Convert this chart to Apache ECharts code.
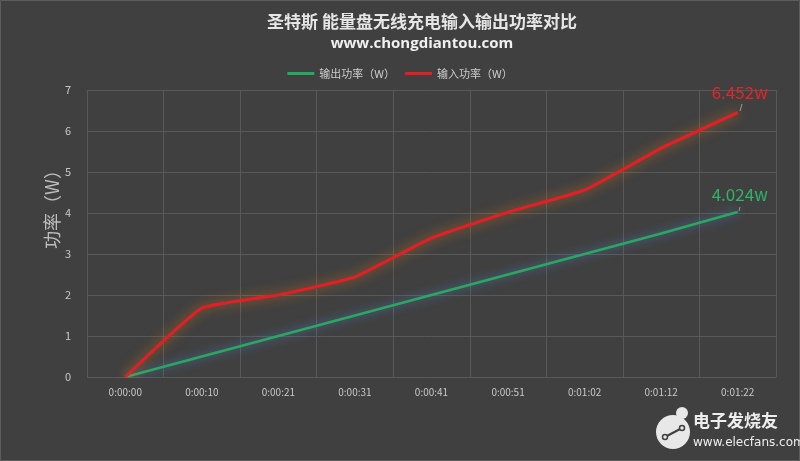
<!DOCTYPE html>
<html>
<head>
<meta charset="utf-8">
<script src="https://cdn.jsdelivr.net/npm/echarts@6/dist/echarts.min.js"></script>
<style>
html,body{margin:0;padding:0;background:#404040;}
#c{width:800px;height:461px;}
</style>
</head>
<body>
<div id="c"></div>
<script>
var categories = ['0:00:00','0:00:10','0:00:21','0:00:31','0:00:41','0:00:51','0:01:02','0:01:12','0:01:22'];
var outputPower = [0, 0.5, 1.0, 1.5, 2.0, 2.5, 3.0, 3.5, 4.024];
var inputPower = [0, 1.68, 2.0, 2.44, 3.39, 4.02, 4.56, 5.58, 6.452];
var yTicks = [0, 1, 2, 3, 4, 5, 6, 7];
var seriesNames = ['输出功率（W）', '输入功率（W）'];

var FONT = '"Noto Sans CJK SC", "Noto Sans", sans-serif';

function endLabel(color, dy) {
  return {
    show: true,
    distance: 0,
    offset: [2, dy],
    align: 'center',
    verticalAlign: 'middle',
    formatter: function (p) { return Number(p.value).toFixed(3) + 'w'; },
    color: color, fontSize: 17, fontFamily: FONT
  };
}

var chart = echarts.init(document.getElementById('c'));
chart.setOption({
  backgroundColor: '#404040',
  animation: false,
  title: {
    text: '圣特斯 能量盘无线充电输入输出功率对比',
    subtext: 'www.chongdiantou.com',
    left: 417, textAlign: 'center', top: 8, itemGap: 6,
    textStyle: { color: '#e6e6e6', fontSize: 17, fontWeight: 'bold', fontFamily: FONT },
    subtextStyle: { color: '#f0f0f0', fontSize: 15, fontWeight: 'bold', fontFamily: '"Open Sans", "Noto Sans", sans-serif' }
  },
  legend: {
    data: seriesNames,
    top: 63, left: 'center',
    itemWidth: 27, itemHeight: 3, itemGap: 10,
    icon: 'rect',
    textStyle: { color: '#cccccc', fontSize: 11, fontFamily: FONT }
  },
  grid: { left: 87, right: 24, top: 90, bottom: 84 },
  xAxis: {
    type: 'category',
    data: categories,
    boundaryGap: true,
    axisLine: { show: false },
    axisTick: { show: false },
    axisLabel: { color: '#c8c8c8', fontSize: 10, margin: 10, fontFamily: FONT },
    splitLine: { show: true, interval: 0, lineStyle: { color: '#595959', width: 1 } }
  },
  yAxis: {
    type: 'value',
    min: yTicks[0], max: yTicks[yTicks.length - 1], interval: 1,
    axisLine: { show: false },
    axisTick: { show: false },
    axisLabel: { color: '#c8c8c8', fontSize: 11, margin: 16, fontFamily: FONT },
    splitLine: { lineStyle: { color: '#595959', width: 1 } }
  },
  series: [
    {
      name: seriesNames[0],
      type: 'line',
      data: outputPower,
      symbol: 'none',
      itemStyle: { color: '#2aa862' },
      lineStyle: { color: '#2aa862', width: 2.5, shadowColor: 'rgba(80,140,220,0.75)', shadowBlur: 10 },
      endLabel: endLabel('#2fb36a', -17),
      z: 3
    },
    {
      name: seriesNames[1],
      type: 'line',
      data: inputPower,
      symbol: 'none',
      smooth: 0.12,
      itemStyle: { color: '#e01f26' },
      lineStyle: { color: '#e01f26', width: 3.2, shadowColor: 'rgba(220,120,20,0.8)', shadowBlur: 12 },
      endLabel: endLabel('#e5242a', -20),
      z: 4
    }
  ],
  graphic: [
    { type: 'rect', shape: { x: 0.5, y: 0.5, width: 799, height: 460 }, style: { fill: 'none', stroke: '#5c5c5c', lineWidth: 1 }, silent: true },
    { type: 'text', x: 52, y: 205, rotation: Math.PI / 2, style: { text: '功率（W）', fill: '#bdbdbd', fontSize: 18, fontFamily: FONT, align: 'center', verticalAlign: 'middle' } },
    { type: 'line', shape: { x1: 740, y1: 111, x2: 742, y2: 104 }, style: { stroke: '#9a9a9a', lineWidth: 1 } },
    { type: 'line', shape: { x1: 739, y1: 211, x2: 740, y2: 207 }, style: { stroke: '#9a9a9a', lineWidth: 1 } },
    { type: 'circle', shape: { cx: 673, cy: 432, r: 17 }, style: { fill: '#e8e8e8' } },
    { type: 'circle', shape: { cx: 682, cy: 413, r: 6 }, style: { fill: '#e8e8e8' } },
    { type: 'line', shape: { x1: 665, y1: 437, x2: 682, y2: 428 }, style: { stroke: '#404040', lineWidth: 2 } },
    { type: 'circle', shape: { cx: 665, cy: 437, r: 2.5 }, style: { fill: '#e8e8e8', stroke: '#404040', lineWidth: 1.5 } },
    { type: 'circle', shape: { cx: 682, cy: 428, r: 2.5 }, style: { fill: '#e8e8e8', stroke: '#404040', lineWidth: 1.5 } },
    { type: 'text', x: 693, y: 421, style: { text: '电子发烧友', fill: '#eeeeee', fontSize: 17, fontWeight: 'bold', fontFamily: FONT, verticalAlign: 'middle' } },
    { type: 'text', x: 693, y: 443, style: { text: 'www.elecfans.com', fill: '#eeeeee', fontSize: 12, fontFamily: '"DejaVu Sans", sans-serif', verticalAlign: 'middle' } }
  ]
});
</script>
</body>
</html>
